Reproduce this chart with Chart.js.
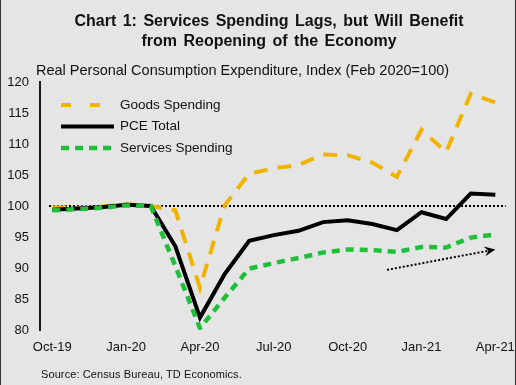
<!DOCTYPE html>
<html lang="en">
<head>
    <meta charset="UTF-8">
    <title>Chart 1: Services Spending Lags</title>
    <script src="https://cdn.jsdelivr.net/npm/chart.js"></script>
    <style>
        * {
            margin: 0;
            padding: 0;
            box-sizing: border-box;
        }

        body {
            width: 516px;
            height: 385px;
            overflow: hidden;
            background: #e5e5e5;
            font-family: "Liberation Sans", Arial, sans-serif;
            color: #111;
        }

        .frame {
            position: relative;
            width: 516px;
            height: 385px;
            border-left: 1px solid #333;
            border-right: 1px solid #333;
        }

        .title {
            position: absolute;
            top: 11px;
            left: 0;
            width: 536px;
            text-align: center;
            font-weight: bold;
            font-size: 16px;
            line-height: 20px;
            word-spacing: 2px;
        }

        .subtitle {
            position: absolute;
            top: 62px;
            left: 35px;
            font-size: 14.5px;
            white-space: nowrap;
        }

        .source {
            position: absolute;
            top: 368px;
            left: 40px;
            font-size: 11px;
            letter-spacing: 0.1px;
            white-space: nowrap;
        }

        canvas {
            position: absolute;
            left: 0;
            top: 0;
        }
    </style>
</head>
<body>
    <div class="frame">
        <canvas id="pceChart" width="516" height="385"></canvas>
        <div class="title">Chart 1: Services Spending Lags, but Will Benefit<br>from Reopening of the Economy</div>
        <div class="subtitle">Real Personal Consumption Expenditure, Index (Feb 2020=100)</div>
        <div class="source">Source: Census Bureau, TD Economics.</div>
    </div>

    <script>
        // months, Oct-19 .. Apr-21
        const months = ['Oct-19', 'Nov-19', 'Dec-19', 'Jan-20', 'Feb-20', 'Mar-20', 'Apr-20',
            'May-20', 'Jun-20', 'Jul-20', 'Aug-20', 'Sep-20', 'Oct-20', 'Nov-20', 'Dec-20',
            'Jan-21', 'Feb-21', 'Mar-21', 'Apr-21'];

        // series (index, Feb 2020 = 100)
        const goods = [99.8, 99.7, 99.9, 100.3, 100, 99.3, 86.8, 100.1, 105.2, 106.1, 106.6,
            108.3, 108.2, 107.0, 104.7, 112.3, 108.7, 118.1, 116.7];
        const pceTotal = [99.4, 99.6, 99.8, 100.2, 100, 93.5, 82.0, 89.0, 94.4, 95.3, 96.0,
            97.4, 97.7, 97.1, 96.1, 99.0, 97.9, 102.0, 101.8];
        const services = [99.3, 99.5, 99.7, 100.1, 100, 90.3, 80.3, 85.2, 89.9, 90.8, 91.6,
            92.5, 93.0, 92.9, 92.6, 93.4, 93.3, 94.9, 95.4];

        // y ticks
        const yMin = 80, yMax = 120, yStep = 5;
        const baseline = 100;

        // trend arrow (category index, value)
        const arrowX = [13.6, 18];
        const arrowY = [89.7, 93.0];

        const GOLD = '#f0b400';
        const GREEN = '#1fbf3a';
        const BLACK = '#000000';

        const legendItems = [
            { label: 'Goods Spending', color: GOLD, dash: [10, 19], width: 4 },
            { label: 'PCE Total', color: BLACK, dash: [], width: 4 },
            { label: 'Services Spending', color: GREEN, dash: [8, 6], width: 4.5 }
        ];

        // dotted 100 line, arrow and in-chart legend
        const extras = {
            id: 'extras',
            beforeDatasetsDraw(chart) {
                const { ctx, chartArea, scales } = chart;
                const y = scales.y.getPixelForValue(baseline);
                ctx.save();
                ctx.strokeStyle = '#000';
                ctx.lineWidth = 2;
                ctx.setLineDash([2, 2]);
                ctx.beginPath();
                ctx.moveTo(chartArea.left + 9, y);
                ctx.lineTo(chartArea.right - 2, y);
                ctx.stroke();
                ctx.restore();
            },
            afterDatasetsDraw(chart) {
                const { ctx, scales } = chart;
                const x0 = scales.x.getPixelForValue(arrowX[0]);
                const x1 = scales.x.getPixelForValue(arrowX[1]);
                const y0 = scales.y.getPixelForValue(arrowY[0]);
                const y1 = scales.y.getPixelForValue(arrowY[1]);
                const ang = Math.atan2(y1 - y0, x1 - x0);
                ctx.save();
                ctx.strokeStyle = '#000';
                ctx.fillStyle = '#000';
                ctx.lineWidth = 2;
                ctx.setLineDash([2, 2]);
                ctx.beginPath();
                ctx.moveTo(x0, y0);
                ctx.lineTo(x1 - 6 * Math.cos(ang), y1 - 6 * Math.sin(ang));
                ctx.stroke();
                ctx.setLineDash([]);
                ctx.translate(x1, y1);
                ctx.rotate(ang);
                ctx.beginPath();
                ctx.moveTo(0, 0);
                ctx.lineTo(-11, -5);
                ctx.lineTo(-7, 0);
                ctx.lineTo(-11, 5);
                ctx.closePath();
                ctx.fill();
                ctx.restore();

                // legend
                ctx.save();
                ctx.font = '13.5px "Liberation Sans", Arial, sans-serif';
                ctx.textBaseline = 'middle';
                legendItems.forEach((item, i) => {
                    const ly = 105 + i * 21.5;
                    ctx.strokeStyle = item.color;
                    ctx.lineWidth = item.width;
                    ctx.setLineDash(item.dash);
                    ctx.beginPath();
                    ctx.moveTo(60, ly);
                    ctx.lineTo(113, ly);
                    ctx.stroke();
                    ctx.setLineDash([]);
                    ctx.fillStyle = '#111';
                    ctx.fillText(item.label, 119, ly);
                });
                ctx.restore();
            }
        };

        const ctx = document.getElementById('pceChart').getContext('2d');

        new Chart(ctx, {
            type: 'line',
            data: {
                labels: months,
                datasets: [
                    {
                        label: 'Services Spending',
                        data: services,
                        borderColor: GREEN,
                        borderWidth: 4.5,
                        borderDash: [8, 6],
                        order: 0
                    },
                    {
                        label: 'PCE Total',
                        data: pceTotal,
                        borderColor: BLACK,
                        borderWidth: 4,
                        order: 1
                    },
                    {
                        label: 'Goods Spending',
                        data: goods,
                        borderColor: GOLD,
                        borderWidth: 4,
                        borderDash: [14, 10],
                        order: 2
                    }
                ]
            },
            options: {
                responsive: false,
                animation: false,
                devicePixelRatio: 1,
                elements: {
                    point: { radius: 0 },
                    line: { tension: 0, borderCapStyle: 'butt', borderJoinStyle: 'miter' }
                },
                layout: {
                    padding: { top: 82, right: 6, bottom: 25, left: 0 }
                },
                plugins: {
                    legend: { display: false },
                    tooltip: { enabled: false }
                },
                scales: {
                    x: {
                        offset: true,
                        grid: { display: false },
                        border: { display: false },
                        afterFit(scale) { scale.height = 30; },
                        ticks: {
                            autoSkip: false,
                            maxRotation: 0,
                            padding: 2,
                            color: '#111',
                            font: { family: '"Liberation Sans", Arial, sans-serif', size: 13 },
                            callback(value, index) {
                                return index % 3 === 0 ? months[index] : '';
                            }
                        }
                    },
                    y: {
                        min: yMin,
                        max: yMax,
                        grid: { drawOnChartArea: false, drawTicks: false, color: 'rgba(0,0,0,0)' },
                        border: { display: true, color: '#1a1a10', width: 2 },
                        afterFit(scale) { scale.width = 39; },
                        ticks: {
                            stepSize: yStep,
                            padding: 11,
                            color: '#111',
                            font: { family: '"Liberation Sans", Arial, sans-serif', size: 13 }
                        }
                    }
                }
            },
            plugins: [extras]
        });
    </script>
</body>
</html>
